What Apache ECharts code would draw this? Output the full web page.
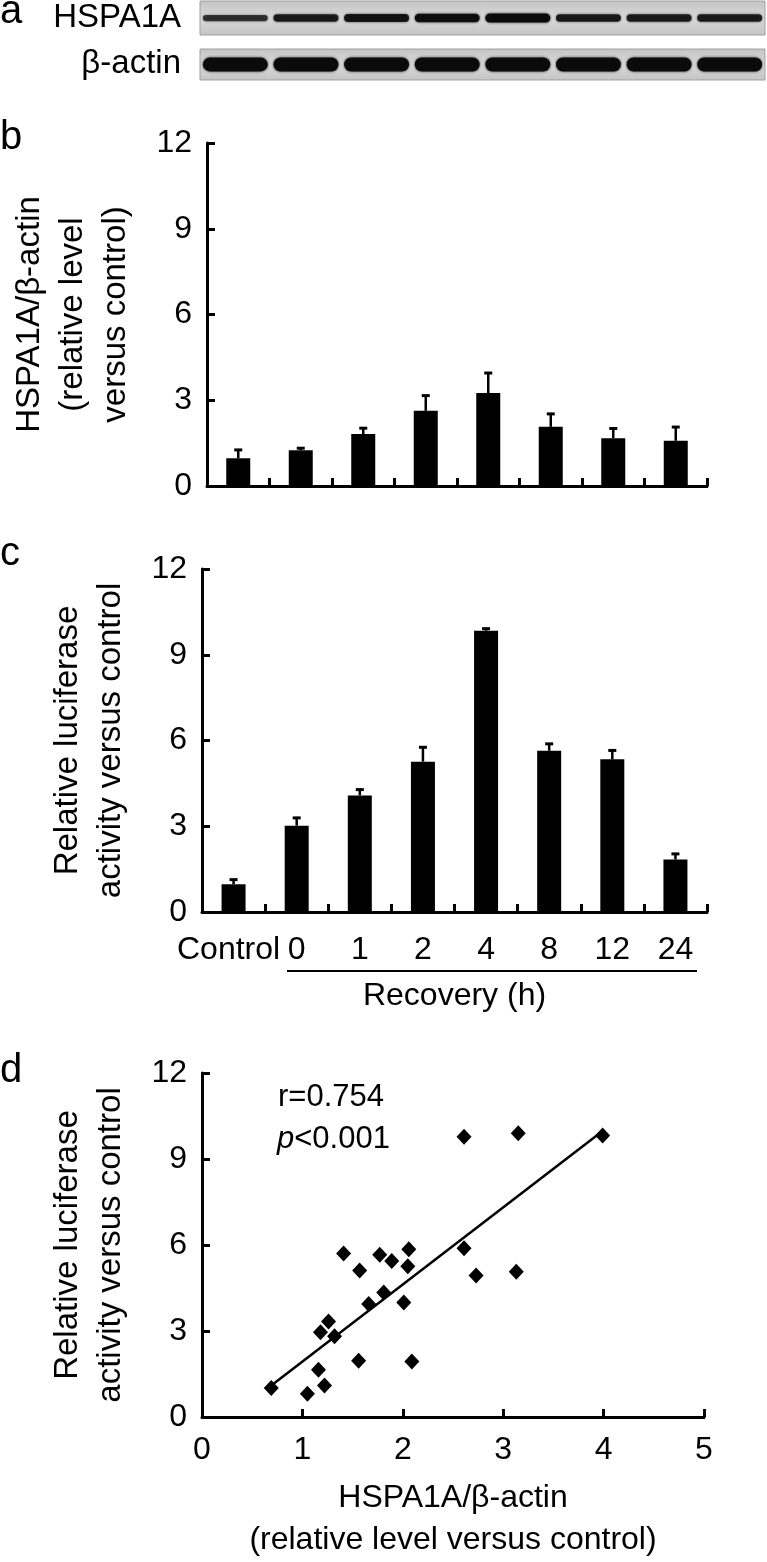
<!DOCTYPE html>
<html><head><meta charset="utf-8">
<script src="https://cdn.jsdelivr.net/npm/echarts@6/dist/echarts.min.js"></script>
<style>html,body{margin:0;padding:0;background:#fff}#c{width:767px;height:1562px}</style>
</head><body><div id="c"></div>
<script>
// ---- data ----
const categories = ['Control', '0', '1', '2', '4', '8', '12', '24'];
const hspBlot = [0.45, 0.70, 0.80, 0.88, 1.00, 0.72, 0.70, 0.70];
const actinBlot = [0.92, 1.00, 0.97, 0.96, 0.97, 0.94, 0.94, 0.95];
const hspMean = [0.97, 1.25, 1.82, 2.63, 3.25, 2.07, 1.67, 1.58];
const hspErr = [0.31, 0.09, 0.22, 0.55, 0.72, 0.47, 0.36, 0.50];
const lucMean = [0.97, 3.02, 4.08, 5.26, 9.84, 5.64, 5.34, 1.84];
const lucErr = [0.18, 0.29, 0.22, 0.52, 0.09, 0.26, 0.33, 0.21];
const scatterX = [2.61, 3.15, 3.99, 1.41, 1.77, 1.89, 2.06, 2.05, 1.57, 2.61, 2.73, 3.13,
                  1.81, 1.66, 2.01, 1.26, 1.18, 1.32, 1.56, 2.09, 1.16, 0.69, 1.05, 1.22];
const scatterY = [9.78, 9.90, 9.82, 5.70, 5.66, 5.44, 5.85, 5.26, 5.11, 5.89, 4.94, 5.07,
                  4.34, 3.94, 3.99, 3.33, 2.96, 2.82, 1.96, 1.94, 1.65, 1.01, 0.81, 1.10];
const fitX = [0.69, 4.00];
const fitY = [1.10, 10.00];
const yTicks = [0, 3, 6, 9, 12];
const xTicksD = [0, 1, 2, 3, 4, 5];
const statR = 'r=0.754';
const statP = '<0.001';

// ---- chart ----
const FONT = "'Liberation Sans', Arial, sans-serif";
const chart = echarts.init(document.getElementById('c'), null, {renderer: 'canvas'});

const axisLine = {show: true, lineStyle: {color: '#000', width: 3}};
const axisTick = {show: true, inside: true, length: 8, lineStyle: {color: '#000', width: 3}};
const tickLabel = {color: '#000', fontSize: 32, fontFamily: FONT, margin: 15};
const nameStyle = {color: '#000', fontSize: 33, fontFamily: FONT, lineHeight: 43};

function valueY(gi, name) {
  return {
    type: 'value', gridIndex: gi, min: yTicks[0], max: yTicks[yTicks.length - 1],
    interval: yTicks[1] - yTicks[0], splitLine: {show: false},
    axisLine, axisTick, axisLabel: tickLabel,
    name, nameLocation: 'middle', nameRotate: 90, nameGap: 70, nameTextStyle: nameStyle
  };
}

function errRender(params, api) {
  const i = api.value(0), m = api.value(1), e = api.value(2);
  const b = api.coord([i, m]);
  const t = api.coord([i, m + e]);
  return {
    type: 'group', children: [
      {type: 'line', shape: {x1: b[0], y1: b[1], x2: t[0], y2: t[1]}, style: {stroke: '#000', lineWidth: 2.5}},
      {type: 'rect', shape: {x: t[0] - 4, y: t[1] - 1, width: 8, height: 3}, style: {fill: '#000'}}
    ]
  };
}

function bandRender(maxH, minH, a0) {
  return function (params, api) {
    const i = api.value(0), v = api.value(1);
    const c = api.coord([i, 0.5]);
    const w = api.size([1, 0])[0] * 0.92;
    const h = minH + (maxH - minH) * v;
    const a = a0 + (1 - a0) * v;
    return {
      type: 'rect',
      shape: {x: c[0] - w / 2, y: c[1] - h / 2, width: w, height: h, r: h / 2},
      style: {fill: 'rgba(10,10,10,' + a + ')', shadowBlur: 3, shadowColor: 'rgba(10,10,10,' + (a * 0.8) + ')'}
    };
  };
}

const blotAxisX = gi => ({type: 'category', gridIndex: gi, data: categories, show: false});
const blotAxisY = gi => ({type: 'value', gridIndex: gi, min: 0, max: 1, show: false});
const blotBg = {type: 'linear', x: 0, y: 0, x2: 0, y2: 1, colorStops: [
  {offset: 0, color: '#c4c4c4'}, {offset: 0.5, color: '#dadada'}, {offset: 1, color: '#c4c4c4'}]};

const option = {
  animation: false,
  backgroundColor: '#fff',
  textStyle: {fontFamily: FONT, color: '#000'},
  grid: [
    {left: 200, top: 1, width: 565, height: 34, show: true, backgroundColor: blotBg, borderColor: '#a0a0a0', borderWidth: 1},
    {left: 200, top: 49, width: 565, height: 31, show: true, backgroundColor: blotBg, borderColor: '#a0a0a0', borderWidth: 1},
    {left: 202, top: 143, width: 505, height: 343},
    {left: 202, top: 569, width: 505, height: 343},
    {left: 202, top: 1073, width: 502, height: 349}
  ],
  xAxis: [
    blotAxisX(0), blotAxisX(1),
    {type: 'category', gridIndex: 2, data: categories, axisLine, axisTick: {...axisTick, alignWithLabel: false}, axisLabel: {show: false}},
    {type: 'category', gridIndex: 3, data: categories, axisLine, axisTick: {...axisTick, alignWithLabel: false},
      axisLabel: {...tickLabel, margin: 22, interval: 0,
        formatter: v => v === categories[0] ? '{c|' + v + '}' : v,
        rich: {c: {fontSize: 32, fontFamily: FONT, color: '#000', padding: [0, 10, 0, 0]}}},
      name: 'Recovery (h)', nameLocation: 'middle', nameGap: 68, nameTextStyle: {...nameStyle, fontSize: 32, lineHeight: 32}},
    {type: 'value', gridIndex: 4, min: xTicksD[0], max: xTicksD[xTicksD.length - 1], interval: xTicksD[1] - xTicksD[0],
      splitLine: {show: false}, axisLine, axisTick, axisLabel: {...tickLabel, margin: 17},
      name: 'HSPA1A/\u03b2-actin\n(relative level versus control)', nameLocation: 'middle', nameGap: 60,
      nameTextStyle: {...nameStyle, fontSize: 32, lineHeight: 42}}
  ],
  yAxis: [
    blotAxisY(0), blotAxisY(1),
    valueY(2, 'HSPA1A/\u03b2-actin\n(relative level\nversus control)'),
    valueY(3, 'Relative luciferase\nactivity versus control'),
    valueY(4, 'Relative luciferase\nactivity versus control')
  ],
  series: [
    {type: 'custom', xAxisIndex: 0, yAxisIndex: 0, renderItem: bandRender(9, 4, 0.5),
      data: hspBlot.map((v, i) => [i, v])},
    {type: 'custom', xAxisIndex: 1, yAxisIndex: 1, renderItem: bandRender(14, 11, 0.8),
      data: actinBlot.map((v, i) => [i, v])},
    {type: 'bar', xAxisIndex: 2, yAxisIndex: 2, data: hspMean, barWidth: 24, itemStyle: {color: '#000'}},
    {type: 'custom', xAxisIndex: 2, yAxisIndex: 2, renderItem: errRender, z: 5,
      data: hspMean.map((m, i) => [i, m, hspErr[i]])},
    {type: 'bar', xAxisIndex: 3, yAxisIndex: 3, data: lucMean, barWidth: 24, itemStyle: {color: '#000'}},
    {type: 'custom', xAxisIndex: 3, yAxisIndex: 3, renderItem: errRender, z: 5,
      data: lucMean.map((m, i) => [i, m, lucErr[i]])},
    {type: 'scatter', xAxisIndex: 4, yAxisIndex: 4, symbol: 'diamond', symbolSize: [15, 16],
      itemStyle: {color: '#000', opacity: 1}, data: scatterX.map((x, i) => [x, scatterY[i]]), z: 4},
    {type: 'line', xAxisIndex: 4, yAxisIndex: 4, symbol: 'none', lineStyle: {color: '#000', width: 2.5},
      data: fitX.map((x, i) => [x, fitY[i]]), z: 3}
  ],
  graphic: [
    {type: 'text', left: 0, top: -8, style: {text: 'a', font: '40px ' + FONT, fill: '#000'}},
    {type: 'text', left: 0, top: 118, style: {text: 'b', font: '40px ' + FONT, fill: '#000'}},
    {type: 'text', left: 0, top: 534, style: {text: 'c', font: '40px ' + FONT, fill: '#000'}},
    {type: 'text', left: 0, top: 1051, style: {text: 'd', font: '40px ' + FONT, fill: '#000'}},
    {type: 'text', x: 181, y: 18, style: {text: 'HSPA1A', font: '33px ' + FONT, fill: '#000', align: 'right', verticalAlign: 'middle'}},
    {type: 'text', x: 181, y: 64, style: {text: '\u03b2-actin', font: '33px ' + FONT, fill: '#000', align: 'right', verticalAlign: 'middle'}},
    {type: 'line', shape: {x1: 287, y1: 971, x2: 697, y2: 971}, style: {stroke: '#000', lineWidth: 2}},
    {type: 'text', x: 278, y: 1097, style: {text: statR, font: '31px ' + FONT, fill: '#000', verticalAlign: 'middle'}},
    {type: 'text', x: 277, y: 1139, style: {
      text: '{i|p}{n|' + statP + '}', verticalAlign: 'middle',
      rich: {i: {font: 'italic 31px ' + FONT, fill: '#000'}, n: {font: '31px ' + FONT, fill: '#000'}}}}
  ]
};
chart.setOption(option);
</script></body></html>
